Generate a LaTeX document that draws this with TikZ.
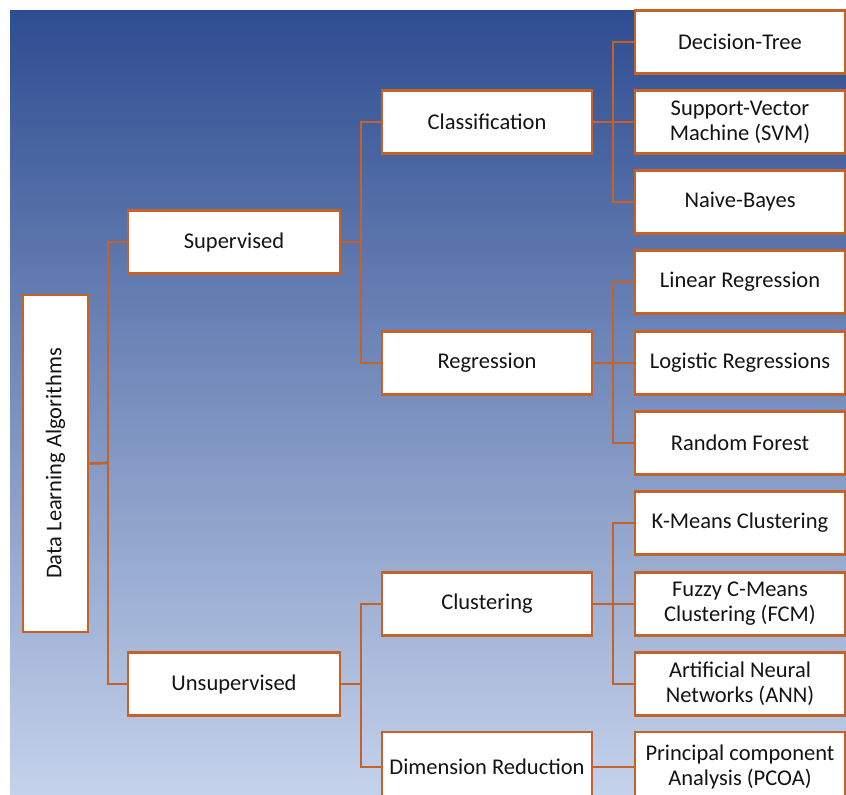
\documentclass[tikz,border=0pt]{standalone}
\usepackage{fontspec}
\setmainfont{Carlito}
\definecolor{bgtop}{RGB}{46,77,145}
\definecolor{bgbot}{RGB}{196,210,235}
\definecolor{edge}{RGB}{197,98,40}
\definecolor{txt}{RGB}{20,20,20}
\tikzset{
  box/.style={draw=edge, line width=2.7pt, fill=white, rectangle, inner sep=2pt,
    minimum width=210pt, minimum height=63pt, align=center, text=txt,
    font=\fontsize{22.5}{25}\selectfont},
  link/.style={draw=edge, line width=2.7pt}
}
\begin{document}
\begin{tikzpicture}[x=1pt,y=-1pt]
\useasboundingbox (0,0) rectangle (846,795);
\clip (0,0) rectangle (846,795);
\fill[white] (0,0) rectangle (846,795);
\shade[top color=bgtop, bottom color=bgbot] (10,10) rectangle (846,795);

% nodes
\node[box, rotate=90, minimum width=337pt, minimum height=65pt] (root) at (55.5,463.5) {Data Learning Algorithms};
\node[box, minimum width=212pt] (sup) at (234,242) {Supervised};
\node[box, minimum width=212pt] (uns) at (234,684) {Unsupervised};
\node[box] (cls) at (487,122) {Classification};
\node[box] (reg) at (487,363) {Regression};
\node[box] (clu) at (487,604) {Clustering};
\node[box, minimum height=70pt] (dim) at (487,767) {Dimension Reduction};
\node[box] (dt) at (740,42) {Decision-Tree};
\node[box] (svm) at (740,122) {Support-Vector\\Machine (SVM)};
\node[box] (nb) at (740,202) {Naive-Bayes};
\node[box] (lin) at (740,282) {Linear Regression};
\node[box] (log) at (740,363) {Logistic Regressions};
\node[box] (rf) at (740,443) {Random Forest};
\node[box] (km) at (740,523) {K-Means Clustering};
\node[box] (fcm) at (740,604) {Fuzzy C-Means\\Clustering (FCM)};
\node[box] (ann) at (740,684) {Artificial Neural\\Networks (ANN)};
\node[box, minimum height=70pt] (pca) at (740,767) {Principal component\\Analysis (PCOA)};

% junctions
\coordinate (j1) at (108,463);
\coordinate (j2) at (361,242);
\coordinate (j3) at (361,684);
\coordinate (j4) at (613,122);
\coordinate (j5) at (613,363);
\coordinate (j6) at (613,604);

% connectors
\draw[link] (root.south) -- (j1);
\draw[link] (sup.west) -| (j1);
\draw[link] (uns.west) -| (j1);
\draw[link] (sup.east) -- (j2);
\draw[link] (cls.west) -| (j2);
\draw[link] (reg.west) -| (j2);
\draw[link] (uns.east) -- (j3);
\draw[link] (clu.west) -| (j3);
\draw[link] (dim.west) -| (j3);
\draw[link] (cls.east) -- (j4);
\draw[link] (dt.west) -| (j4);
\draw[link] (svm.west) -- (j4);
\draw[link] (nb.west) -| (j4);
\draw[link] (reg.east) -- (j5);
\draw[link] (lin.west) -| (j5);
\draw[link] (log.west) -- (j5);
\draw[link] (rf.west) -| (j5);
\draw[link] (clu.east) -- (j6);
\draw[link] (km.west) -| (j6);
\draw[link] (fcm.west) -- (j6);
\draw[link] (ann.west) -| (j6);
\draw[link] (dim.east) -- (pca.west);
\end{tikzpicture}
\end{document}
